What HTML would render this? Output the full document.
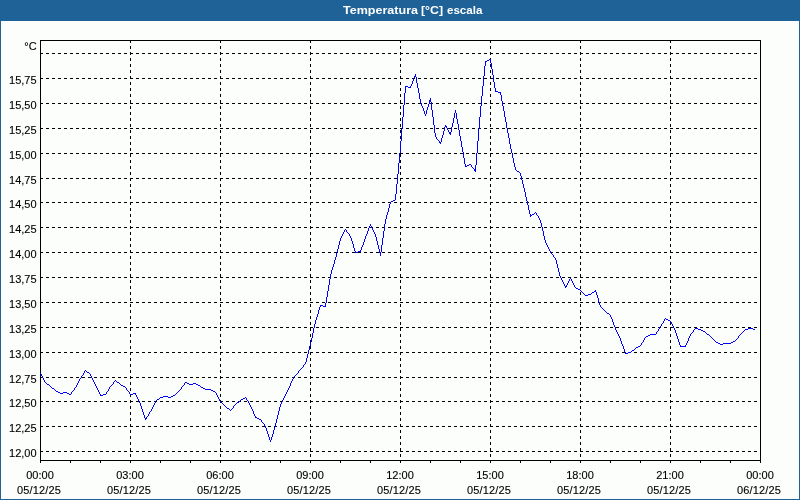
<!DOCTYPE html>
<html><head><meta charset="utf-8"><title>Temperatura [°C] escala</title>
<style>
html,body{margin:0;padding:0;}
body{width:800px;height:500px;overflow:hidden;background:#1e6298;position:relative;font-family:"Liberation Sans","DejaVu Sans",sans-serif;font-size:11px;color:#000;-webkit-text-stroke:0.12px #000;}
#bar{position:absolute;left:0;top:0;width:800px;height:21px;background:#1e6298;}
.tw{-webkit-text-stroke:0;position:absolute;top:3px;color:#fff;font-weight:bold;font-size:11px;line-height:14px;white-space:nowrap;transform-origin:0 0;}
#panel{position:absolute;left:1px;top:21px;width:798px;height:478px;background:#fcfefc;}
svg{position:absolute;left:0;top:0;}
.yl{position:absolute;left:0;width:36.6px;text-align:right;line-height:12px;height:12px;white-space:nowrap;}
.xl{position:absolute;width:60px;text-align:center;line-height:15px;height:15px;white-space:nowrap;}
.xd{letter-spacing:0.12px;}
</style></head><body>
<div id="bar"></div>
<div class="tw" style="left:343px;transform:scaleX(1.14)">Temperatura</div>
<div class="tw" style="left:421px;transform:scaleX(1.12)">[°C]</div>
<div class="tw" style="left:447px;transform:scaleX(1.05)">escala</div>
<div id="panel"></div>
<svg width="800" height="500" viewBox="0 0 800 500" shape-rendering="crispEdges">
<g stroke="#000" stroke-width="1" fill="none">
<line x1="40" y1="53.5" x2="760" y2="53.5" stroke-dasharray="3 3"/>
<line x1="40" y1="78.5" x2="760" y2="78.5" stroke-dasharray="3 3"/>
<line x1="40" y1="103.5" x2="760" y2="103.5" stroke-dasharray="3 3"/>
<line x1="40" y1="128.5" x2="760" y2="128.5" stroke-dasharray="3 3"/>
<line x1="40" y1="153.5" x2="760" y2="153.5" stroke-dasharray="3 3"/>
<line x1="40" y1="178.5" x2="760" y2="178.5" stroke-dasharray="3 3"/>
<line x1="40" y1="202.5" x2="760" y2="202.5" stroke-dasharray="3 3"/>
<line x1="40" y1="227.5" x2="760" y2="227.5" stroke-dasharray="3 3"/>
<line x1="40" y1="252.5" x2="760" y2="252.5" stroke-dasharray="3 3"/>
<line x1="40" y1="277.5" x2="760" y2="277.5" stroke-dasharray="3 3"/>
<line x1="40" y1="302.5" x2="760" y2="302.5" stroke-dasharray="3 3"/>
<line x1="40" y1="327.5" x2="760" y2="327.5" stroke-dasharray="3 3"/>
<line x1="40" y1="352.5" x2="760" y2="352.5" stroke-dasharray="3 3"/>
<line x1="40" y1="377.5" x2="760" y2="377.5" stroke-dasharray="3 3"/>
<line x1="40" y1="401.5" x2="760" y2="401.5" stroke-dasharray="3 3"/>
<line x1="40" y1="426.5" x2="760" y2="426.5" stroke-dasharray="3 3"/>
<line x1="40" y1="451.5" x2="760" y2="451.5" stroke-dasharray="3 3"/>
<line x1="130.5" y1="40" x2="130.5" y2="460" stroke-dasharray="3 3"/>
<line x1="220.5" y1="40" x2="220.5" y2="460" stroke-dasharray="3 3"/>
<line x1="310.5" y1="40" x2="310.5" y2="460" stroke-dasharray="3 3"/>
<line x1="400.5" y1="40" x2="400.5" y2="460" stroke-dasharray="3 3"/>
<line x1="490.5" y1="40" x2="490.5" y2="460" stroke-dasharray="3 3"/>
<line x1="580.5" y1="40" x2="580.5" y2="460" stroke-dasharray="3 3"/>
<line x1="670.5" y1="40" x2="670.5" y2="460" stroke-dasharray="3 3"/>
<rect x="40.5" y="40.5" width="720" height="420"/>
<line x1="40.5" y1="460" x2="40.5" y2="463"/>
<line x1="70.5" y1="460" x2="70.5" y2="463"/>
<line x1="100.5" y1="460" x2="100.5" y2="463"/>
<line x1="130.5" y1="460" x2="130.5" y2="463"/>
<line x1="160.5" y1="460" x2="160.5" y2="463"/>
<line x1="190.5" y1="460" x2="190.5" y2="463"/>
<line x1="220.5" y1="460" x2="220.5" y2="463"/>
<line x1="250.5" y1="460" x2="250.5" y2="463"/>
<line x1="280.5" y1="460" x2="280.5" y2="463"/>
<line x1="310.5" y1="460" x2="310.5" y2="463"/>
<line x1="340.5" y1="460" x2="340.5" y2="463"/>
<line x1="370.5" y1="460" x2="370.5" y2="463"/>
<line x1="400.5" y1="460" x2="400.5" y2="463"/>
<line x1="430.5" y1="460" x2="430.5" y2="463"/>
<line x1="460.5" y1="460" x2="460.5" y2="463"/>
<line x1="490.5" y1="460" x2="490.5" y2="463"/>
<line x1="520.5" y1="460" x2="520.5" y2="463"/>
<line x1="550.5" y1="460" x2="550.5" y2="463"/>
<line x1="580.5" y1="460" x2="580.5" y2="463"/>
<line x1="610.5" y1="460" x2="610.5" y2="463"/>
<line x1="640.5" y1="460" x2="640.5" y2="463"/>
<line x1="670.5" y1="460" x2="670.5" y2="463"/>
<line x1="700.5" y1="460" x2="700.5" y2="463"/>
<line x1="730.5" y1="460" x2="730.5" y2="463"/>
<line x1="760.5" y1="460" x2="760.5" y2="463"/>
</g>
<path d="M40.5 373v1M41.5 374v2M42.5 376v2M43.5 378v2M44.5 380v2M45.5 382v1M46.5 383v1M47.5 384v1M48.5 384v1M49.5 385v1M50.5 386v1M51.5 387v1M52.5 388v1M53.5 388v1M54.5 389v1M55.5 390v1M56.5 391v1M57.5 391v1M58.5 392v1M59.5 392v1M60.5 393v1M61.5 393v1M62.5 393v1M63.5 392v1M64.5 392v1M65.5 392v1M66.5 392v1M67.5 393v1M68.5 393v1M69.5 394v1M70.5 394v1M71.5 392v2M72.5 391v1M73.5 390v1M74.5 388v2M75.5 387v1M76.5 385v2M77.5 383v2M78.5 381v2M79.5 379v2M80.5 378v1M81.5 376v2M82.5 375v1M83.5 373v2M84.5 371v2M85.5 370v1M86.5 371v1M87.5 372v1M88.5 372v1M89.5 373v1M90.5 374v2M91.5 376v2M92.5 378v2M93.5 380v2M94.5 382v2M95.5 384v2M96.5 386v2M97.5 388v2M98.5 390v2M99.5 392v2M100.5 394v2M101.5 395v1M102.5 395v1M103.5 394v1M104.5 394v1M105.5 394v1M106.5 392v2M107.5 391v1M108.5 389v2M109.5 387v2M110.5 386v1M111.5 385v1M112.5 384v1M113.5 382v2M114.5 381v1M115.5 380v1M116.5 381v1M117.5 382v1M118.5 382v1M119.5 383v1M120.5 384v1M121.5 385v1M122.5 385v1M123.5 386v1M124.5 386v1M125.5 387v1M126.5 388v2M127.5 390v1M128.5 391v1M129.5 392v2M130.5 394v1M131.5 394v1M132.5 394v1M133.5 393v1M134.5 393v1M135.5 393v2M136.5 395v2M137.5 397v2M138.5 399v2M139.5 401v2M140.5 403v3M141.5 406v3M142.5 409v3M143.5 412v3M144.5 415v3M145.5 418v2M146.5 417v2M147.5 416v1M148.5 414v2M149.5 412v2M150.5 411v1M151.5 409v2M152.5 407v2M153.5 405v2M154.5 403v2M155.5 401v2M156.5 400v1M157.5 399v1M158.5 399v1M159.5 398v1M160.5 397v1M161.5 397v1M162.5 397v1M163.5 396v1M164.5 396v1M165.5 396v1M166.5 396v1M167.5 396v1M168.5 397v1M169.5 397v1M170.5 397v1M171.5 396v1M172.5 396v1M173.5 395v1M174.5 395v1M175.5 394v1M176.5 393v1M177.5 392v1M178.5 391v1M179.5 390v1M180.5 389v1M181.5 387v2M182.5 386v1M183.5 385v1M184.5 383v2M185.5 382v1M186.5 382v1M187.5 383v1M188.5 383v1M189.5 384v1M190.5 384v1M191.5 384v1M192.5 384v1M193.5 383v1M194.5 383v1M195.5 383v1M196.5 384v1M197.5 384v1M198.5 385v1M199.5 385v1M200.5 386v1M201.5 387v1M202.5 387v1M203.5 388v1M204.5 388v1M205.5 389v1M206.5 389v1M207.5 389v1M208.5 389v1M209.5 389v1M210.5 389v1M211.5 390v1M212.5 390v1M213.5 391v1M214.5 391v1M215.5 392v1M216.5 393v2M217.5 395v2M218.5 397v2M219.5 399v2M220.5 401v1M221.5 402v1M222.5 403v1M223.5 404v1M224.5 405v1M225.5 406v1M226.5 407v1M227.5 408v1M228.5 408v1M229.5 409v1M230.5 410v1M231.5 409v1M232.5 408v1M233.5 406v2M234.5 405v1M235.5 404v1M236.5 403v1M237.5 402v1M238.5 402v1M239.5 401v1M240.5 400v1M241.5 399v1M242.5 399v1M243.5 398v1M244.5 398v1M245.5 397v1M246.5 398v2M247.5 400v1M248.5 401v2M249.5 403v2M250.5 405v2M251.5 407v2M252.5 409v2M253.5 411v3M254.5 414v2M255.5 416v2M256.5 417v1M257.5 418v1M258.5 418v1M259.5 419v1M260.5 419v1M261.5 420v2M262.5 422v1M263.5 423v1M264.5 424v2M265.5 426v2M266.5 428v3M267.5 431v3M268.5 434v3M269.5 437v3M270.5 440v2M271.5 437v3M272.5 434v3M273.5 430v4M274.5 427v3M275.5 423v4M276.5 419v4M277.5 415v4M278.5 411v4M279.5 407v4M280.5 404v3M281.5 402v2M282.5 400v2M283.5 398v2M284.5 396v2M285.5 394v2M286.5 392v2M287.5 390v2M288.5 388v2M289.5 386v2M290.5 383v3M291.5 381v2M292.5 379v2M293.5 377v2M294.5 376v1M295.5 375v1M296.5 374v1M297.5 373v1M298.5 371v2M299.5 370v1M300.5 369v1M301.5 368v1M302.5 367v1M303.5 365v2M304.5 364v1M305.5 362v2M306.5 358v4M307.5 354v4M308.5 350v4M309.5 346v4M310.5 342v4M311.5 338v4M312.5 333v5M313.5 328v5M314.5 324v4M315.5 320v4M316.5 317v3M317.5 314v3M318.5 310v4M319.5 307v3M320.5 305v2M321.5 305v1M322.5 305v1M323.5 306v1M324.5 306v1M325.5 303v4M326.5 297v6M327.5 291v6M328.5 285v6M329.5 279v6M330.5 274v5M331.5 270v4M332.5 267v3M333.5 264v3M334.5 260v4M335.5 257v3M336.5 253v4M337.5 249v4M338.5 245v4M339.5 241v4M340.5 238v3M341.5 236v2M342.5 234v2M343.5 232v2M344.5 230v2M345.5 229v1M346.5 230v2M347.5 232v1M348.5 233v1M349.5 234v2M350.5 236v2M351.5 238v3M352.5 241v3M353.5 244v4M354.5 248v3M355.5 251v2M356.5 252v1M357.5 252v1M358.5 251v1M359.5 251v1M360.5 250v2M361.5 247v3M362.5 245v2M363.5 242v3M364.5 239v3M365.5 236v3M366.5 234v2M367.5 231v3M368.5 228v3M369.5 226v2M370.5 224v2M371.5 226v2M372.5 228v2M373.5 230v2M374.5 232v2M375.5 234v3M376.5 237v4M377.5 241v4M378.5 245v4M379.5 249v4M380.5 252v4M381.5 245v7M382.5 238v7M383.5 231v7M384.5 224v7M385.5 219v5M386.5 215v4M387.5 212v3M388.5 208v4M389.5 204v4M390.5 202v2M391.5 201v1M392.5 201v1M393.5 200v1M394.5 200v1M395.5 194v6M396.5 184v10M397.5 174v10M398.5 163v11M399.5 153v10M400.5 141v12M401.5 129v12M402.5 117v12M403.5 105v12M404.5 93v12M405.5 86v7M406.5 86v1M407.5 86v1M408.5 87v1M409.5 87v1M410.5 86v2M411.5 84v2M412.5 81v3M413.5 78v3M414.5 76v2M415.5 74v3M416.5 77v6M417.5 83v5M418.5 88v5M419.5 93v6M420.5 99v4M421.5 103v3M422.5 106v2M423.5 108v3M424.5 111v3M425.5 114v2M426.5 110v4M427.5 107v3M428.5 104v3M429.5 100v4M430.5 98v4M431.5 102v8M432.5 110v7M433.5 117v8M434.5 125v8M435.5 133v4M436.5 137v2M437.5 139v1M438.5 140v1M439.5 141v2M440.5 142v2M441.5 138v4M442.5 135v3M443.5 131v4M444.5 127v4M445.5 125v2M446.5 126v2M447.5 128v2M448.5 130v2M449.5 132v2M450.5 132v3M451.5 127v5M452.5 123v4M453.5 118v5M454.5 113v5M455.5 110v3M456.5 113v6M457.5 119v5M458.5 124v6M459.5 130v6M460.5 136v5M461.5 141v6M462.5 147v5M463.5 152v6M464.5 158v6M465.5 164v3M466.5 166v1M467.5 165v1M468.5 165v1M469.5 164v1M470.5 164v1M471.5 165v2M472.5 167v1M473.5 168v1M474.5 169v2M475.5 165v7M476.5 153v12M477.5 141v12M478.5 129v12M479.5 117v12M480.5 106v11M481.5 96v10M482.5 86v10M483.5 76v10M484.5 66v10M485.5 61v5M486.5 61v1M487.5 60v1M488.5 60v1M489.5 59v1M490.5 59v4M491.5 63v6M492.5 69v6M493.5 75v7M494.5 82v6M495.5 88v4M496.5 91v1M497.5 91v1M498.5 92v1M499.5 92v1M500.5 92v3M501.5 95v6M502.5 101v5M503.5 106v5M504.5 111v6M505.5 117v5M506.5 122v6M507.5 128v5M508.5 133v5M509.5 138v6M510.5 144v5M511.5 149v4M512.5 153v5M513.5 158v5M514.5 163v4M515.5 167v3M516.5 170v1M517.5 171v1M518.5 171v1M519.5 172v1M520.5 173v3M521.5 176v4M522.5 180v4M523.5 184v4M524.5 188v4M525.5 192v5M526.5 197v4M527.5 201v4M528.5 205v5M529.5 210v4M530.5 214v3M531.5 215v1M532.5 214v1M533.5 214v1M534.5 213v1M535.5 212v1M536.5 213v2M537.5 215v1M538.5 216v2M539.5 218v2M540.5 220v3M541.5 223v4M542.5 227v4M543.5 231v5M544.5 236v4M545.5 240v3M546.5 243v2M547.5 245v2M548.5 247v2M549.5 249v2M550.5 251v2M551.5 253v1M552.5 254v1M553.5 255v2M554.5 257v1M555.5 258v2M556.5 260v4M557.5 264v4M558.5 268v4M559.5 272v4M560.5 276v2M561.5 278v2M562.5 280v2M563.5 282v2M564.5 284v2M565.5 286v2M566.5 285v2M567.5 283v2M568.5 281v2M569.5 279v2M570.5 278v1M571.5 279v2M572.5 281v2M573.5 283v2M574.5 285v2M575.5 287v1M576.5 288v1M577.5 288v1M578.5 289v1M579.5 289v1M580.5 290v1M581.5 291v1M582.5 292v1M583.5 293v1M584.5 294v1M585.5 295v1M586.5 295v1M587.5 295v1M588.5 294v1M589.5 294v1M590.5 294v1M591.5 293v1M592.5 292v1M593.5 292v1M594.5 291v1M595.5 290v2M596.5 292v3M597.5 295v3M598.5 298v4M599.5 302v3M600.5 305v2M601.5 307v1M602.5 308v1M603.5 309v1M604.5 310v1M605.5 311v1M606.5 312v1M607.5 313v1M608.5 313v1M609.5 314v1M610.5 315v2M611.5 317v2M612.5 319v3M613.5 322v3M614.5 325v2M615.5 327v3M616.5 330v2M617.5 332v2M618.5 334v2M619.5 336v2M620.5 338v3M621.5 341v3M622.5 344v2M623.5 346v3M624.5 349v3M625.5 352v2M626.5 353v1M627.5 353v1M628.5 352v1M629.5 352v1M630.5 352v1M631.5 351v1M632.5 350v1M633.5 350v1M634.5 349v1M635.5 348v1M636.5 347v1M637.5 347v1M638.5 346v1M639.5 346v1M640.5 345v1M641.5 343v2M642.5 342v1M643.5 340v2M644.5 338v2M645.5 337v1M646.5 336v1M647.5 336v1M648.5 335v1M649.5 335v1M650.5 334v1M651.5 334v1M652.5 334v1M653.5 334v1M654.5 334v1M655.5 334v1M656.5 332v2M657.5 331v1M658.5 329v2M659.5 327v2M660.5 326v1M661.5 324v2M662.5 323v1M663.5 321v2M664.5 319v2M665.5 318v1M666.5 319v1M667.5 319v1M668.5 320v1M669.5 320v1M670.5 321v1M671.5 322v2M672.5 324v2M673.5 326v2M674.5 328v2M675.5 330v3M676.5 333v3M677.5 336v3M678.5 339v3M679.5 342v3M680.5 345v2M681.5 346v1M682.5 346v1M683.5 346v1M684.5 346v1M685.5 345v2M686.5 343v2M687.5 341v2M688.5 338v3M689.5 336v2M690.5 334v2M691.5 333v1M692.5 332v1M693.5 330v2M694.5 329v1M695.5 328v1M696.5 328v1M697.5 328v1M698.5 329v1M699.5 329v1M700.5 329v1M701.5 330v1M702.5 330v1M703.5 331v1M704.5 331v1M705.5 332v1M706.5 333v1M707.5 334v1M708.5 334v1M709.5 335v1M710.5 336v1M711.5 337v1M712.5 338v1M713.5 339v1M714.5 340v1M715.5 341v1M716.5 342v1M717.5 342v1M718.5 343v1M719.5 343v1M720.5 344v1M721.5 344v1M722.5 344v1M723.5 343v1M724.5 343v1M725.5 343v1M726.5 343v1M727.5 343v1M728.5 343v1M729.5 343v1M730.5 343v1M731.5 342v1M732.5 342v1M733.5 341v1M734.5 341v1M735.5 340v1M736.5 339v1M737.5 338v1M738.5 336v2M739.5 335v1M740.5 334v1M741.5 333v1M742.5 332v1M743.5 331v1M744.5 330v1M745.5 329v1M746.5 329v1M747.5 329v1M748.5 328v1M749.5 328v1M750.5 328v1M751.5 328v1M752.5 328v1M753.5 329v1M754.5 329v1" fill="none" stroke="#0000ff" stroke-width="1"/>
</svg>
<div class="yl" style="top:40px">°C</div>
<div class="yl" style="top:74px">15,75</div>
<div class="yl" style="top:99px">15,50</div>
<div class="yl" style="top:124px">15,25</div>
<div class="yl" style="top:149px">15,00</div>
<div class="yl" style="top:174px">14,75</div>
<div class="yl" style="top:198px">14,50</div>
<div class="yl" style="top:223px">14,25</div>
<div class="yl" style="top:248px">14,00</div>
<div class="yl" style="top:273px">13,75</div>
<div class="yl" style="top:298px">13,50</div>
<div class="yl" style="top:323px">13,25</div>
<div class="yl" style="top:348px">13,00</div>
<div class="yl" style="top:373px">12,75</div>
<div class="yl" style="top:397px">12,50</div>
<div class="yl" style="top:422px">12,25</div>
<div class="yl" style="top:447px">12,00</div>
<div class="xl" style="left:10px;top:468px">00:00</div>
<div class="xl xd" style="left:9px;top:483px">05/12/25</div>
<div class="xl" style="left:100px;top:468px">03:00</div>
<div class="xl xd" style="left:99px;top:483px">05/12/25</div>
<div class="xl" style="left:190px;top:468px">06:00</div>
<div class="xl xd" style="left:189px;top:483px">05/12/25</div>
<div class="xl" style="left:280px;top:468px">09:00</div>
<div class="xl xd" style="left:279px;top:483px">05/12/25</div>
<div class="xl" style="left:370px;top:468px">12:00</div>
<div class="xl xd" style="left:369px;top:483px">05/12/25</div>
<div class="xl" style="left:460px;top:468px">15:00</div>
<div class="xl xd" style="left:459px;top:483px">05/12/25</div>
<div class="xl" style="left:550px;top:468px">18:00</div>
<div class="xl xd" style="left:549px;top:483px">05/12/25</div>
<div class="xl" style="left:640px;top:468px">21:00</div>
<div class="xl xd" style="left:639px;top:483px">05/12/25</div>
<div class="xl" style="left:730px;top:468px">00:00</div>
<div class="xl xd" style="left:729px;top:483px">06/12/25</div>
</body></html>
